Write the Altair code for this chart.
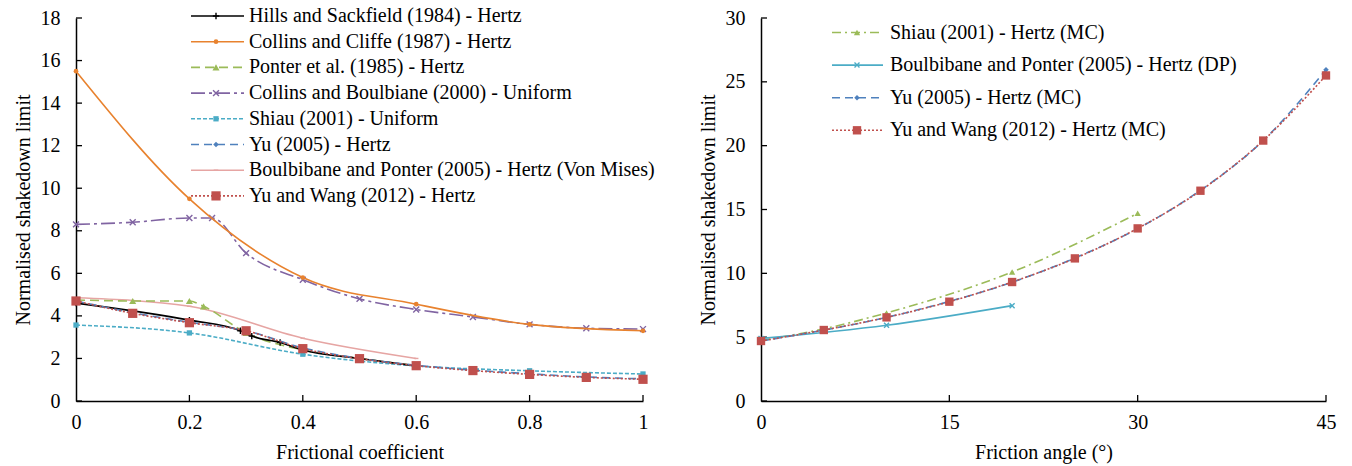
import altair as alt
import pandas as pd

# ---------------- data: left panel (frictional coefficient) ----------------
hills_x = [0, 0.2, 0.29, 0.31, 0.36, 0.4, 0.5, 0.6]
hills_y = [4.6, 3.8, 3.3, 3.05, 2.75, 2.4, 2.0, 1.65]

cc_x = [0, 0.2, 0.4, 0.6, 0.8, 1.0]
cc_y = [15.5, 9.5, 5.8, 4.55, 3.6, 3.3]

ponter_x = [0, 0.1, 0.2, 0.225, 0.3, 0.4, 0.5, 0.6]
ponter_y = [4.75, 4.7, 4.7, 4.45, 3.2, 2.4, 2.0, 1.65]

cb_x = [0, 0.1, 0.2, 0.24, 0.3, 0.4, 0.5, 0.6, 0.7, 0.8, 0.9, 1.0]
cb_y = [8.3, 8.4, 8.6, 8.6, 6.95, 5.7, 4.8, 4.3, 3.95, 3.6, 3.42, 3.38]

shiau_x = [0, 0.2, 0.4, 0.6, 0.8, 1.0]
shiau_y = [3.57, 3.2, 2.2, 1.65, 1.42, 1.27]

yu_x = [0, 0.1, 0.2, 0.3, 0.4, 0.5, 0.6, 0.7, 0.8, 0.9, 1.0]
yu_y = [4.7, 4.15, 3.7, 3.3, 2.5, 2.0, 1.68, 1.45, 1.28, 1.13, 1.04]

bp_x = [0, 0.2, 0.4, 0.6]
bp_y = [4.85, 4.45, 2.95, 2.0]

yw_x = [0, 0.1, 0.2, 0.3, 0.4, 0.5, 0.6, 0.7, 0.8, 0.9, 1.0]
yw_y = [4.7, 4.12, 3.68, 3.3, 2.46, 1.99, 1.66, 1.43, 1.25, 1.11, 1.02]

# ---------------- data: right panel (friction angle) ----------------
shiau_mc_x = [0, 5, 10, 20, 30]
shiau_mc_y = [4.75, 5.65, 6.9, 10.1, 14.7]

bp_dp_x = [0, 10, 20]
bp_dp_y = [4.9, 5.93, 7.47]

yu_mc_x = [0, 5, 10, 15, 20, 25, 30, 35, 40, 45]
yu_mc_y = [4.7, 5.55, 6.55, 7.8, 9.3, 11.2, 13.5, 16.5, 20.4, 25.95]

yw_mc_x = [0, 5, 10, 15, 20, 25, 30, 35, 40, 45]
yw_mc_y = [4.7, 5.56, 6.55, 7.78, 9.32, 11.17, 13.52, 16.47, 20.4, 25.5]

# ---------------- tick values ----------------
left_x_ticks = [0, 0.2, 0.4, 0.6, 0.8, 1.0]
left_y_ticks = [0, 2, 4, 6, 8, 10, 12, 14, 16, 18]
right_x_ticks = [0, 15, 30, 45]
right_y_ticks = [0, 5, 10, 15, 20, 25, 30]

left_labels = [
    "Hills and Sackfield (1984) - Hertz",
    "Collins and Cliffe (1987) - Hertz",
    "Ponter et al. (1985) - Hertz",
    "Collins and Boulbiane (2000) - Uniform",
    "Shiau (2001) - Uniform",
    "Yu (2005) - Hertz",
    "Boulbibane and Ponter (2005) - Hertz (Von Mises)",
    "Yu and Wang (2012) - Hertz",
]
right_labels = [
    "Shiau (2001) - Hertz (MC)",
    "Boulbibane and Ponter (2005) - Hertz (DP)",
    "Yu (2005) - Hertz (MC)",
    "Yu and Wang (2012) - Hertz (MC)",
]

FONT = "Liberation Serif"
FS = 20
W1, W2, H = 567, 565, 383
PLUS = "M-1,0L1,0M0,-1L0,1"
XSHAPE = "M-1,-1L1,1M1,-1L-1,1"

# style: color, dash, shape, size, filled
left_styles = [
    ("#000000", None, PLUS, 40, False),
    ("#E8822E", None, "circle", 22, True),
    ("#9BBB59", [9, 5], "triangle-up", 50, True),
    ("#8064A2", [14, 4, 3, 4], XSHAPE, 35, False),
    ("#4BACC6", [4, 2], "square", 28, True),
    ("#4F81BD", [8, 5], "diamond", 30, True),
    ("#E6A5A3", None, "stroke", 20, False),
    ("#C0504D", [2, 2], "square", 85, True),
]
right_styles = [
    ("#9BBB59", [9, 4, 2, 4], "triangle-up", 40, True),
    ("#4BACC6", None, XSHAPE, 25, False),
    ("#4F81BD", [8, 5], "diamond", 30, True),
    ("#C0504D", [2, 2], "square", 70, True),
]


def axis(values, title, fmt, is_x):
    kw = dict(
        values=values, format=fmt, ticks=False, grid=False,
        domainColor="black", domainWidth=1.5,
        labelFont=FONT, labelFontSize=FS, labelColor="black",
        labelFlush=False, labelOverlap=False,
        title=title, titleFont=FONT, titleFontSize=FS,
        titleFontWeight="normal", titleColor="black",
    )
    if is_x:
        kw.update(labelPadding=11, titlePadding=10)
    else:
        kw.update(labelPadding=16, titlePadding=7)
    return alt.Axis(**kw)


def series(xs, ys, style, X, Y, width=1.6):
    color, dash, shape, size, filled = style
    df = pd.DataFrame({"x": xs, "y": ys})
    enc = dict(x=X("x"), y=Y("y"))
    lk = dict(color=color, strokeWidth=width, interpolate="monotone")
    if dash:
        lk["strokeDash"] = dash
    line = alt.Chart(df).mark_line(**lk).encode(**enc)
    pk = dict(shape=shape, size=size, filled=filled, color=color, opacity=1)
    if not filled:
        pk["strokeWidth"] = 1.4
    pts = alt.Chart(df).mark_point(**pk).encode(**enc)
    return [line, pts]


def legend(labels, styles, x0, x1, xm, xt, y0, dy, width=1.6):
    one = pd.DataFrame({"a": [0]})
    layers = []
    for i, (lab, st) in enumerate(zip(labels, styles)):
        color, dash, shape, size, filled = st
        yy = y0 + i * dy
        rk = dict(color=color, strokeWidth=width)
        if dash:
            rk["strokeDash"] = dash
        layers.append(alt.Chart(one).mark_rule(**rk).encode(
            x=alt.value(x0), x2=alt.value(x1), y=alt.value(yy)))
        pk = dict(shape=shape, size=size, filled=filled, color=color, opacity=1)
        if not filled:
            pk["strokeWidth"] = 1.4
        layers.append(alt.Chart(one).mark_point(**pk).encode(
            x=alt.value(xm), y=alt.value(yy)))
        layers.append(alt.Chart(one).mark_text(
            align="left", baseline="middle", font=FONT, fontSize=FS, color="black"
        ).encode(x=alt.value(xt), y=alt.value(yy), text=alt.value(lab)))
    return layers


def ticks(xvals, yvals, X, Y):
    ydf = pd.DataFrame({"v": yvals})
    xdf = pd.DataFrame({"v": xvals})
    ylay = alt.Chart(ydf).mark_rule(color="black", strokeWidth=1.3).encode(
        y=Y("v"), x=alt.value(0), x2=alt.value(6))
    xlay = alt.Chart(xdf).mark_rule(color="black", strokeWidth=1.3).encode(
        x=X("v"), y=alt.value(H), y2=alt.value(H - 6))
    return [ylay, xlay]


def make_enc(domain_x, domain_y, xvals, yvals, xtitle, ytitle, xfmt):
    xs = alt.Scale(domain=domain_x, nice=False, zero=False)
    ys = alt.Scale(domain=domain_y, nice=False, zero=False)
    xa = axis(xvals, xtitle, xfmt, True)
    ya = axis(yvals, ytitle, "d", False)

    def X(f):
        return alt.X(f"{f}:Q", scale=xs, axis=xa)

    def Y(f):
        return alt.Y(f"{f}:Q", scale=ys, axis=ya)
    return X, Y


# ---------------- left panel ----------------
LX, LY = make_enc([0, 1], [0, 18], left_x_ticks, left_y_ticks,
                  "Frictional coefficient", "Normalised shakedown limit", "~g")
left_layers = ticks(left_x_ticks[1:], left_y_ticks, LX, LY)
left_data = [
    (hills_x, hills_y), (cc_x, cc_y), (ponter_x, ponter_y), (cb_x, cb_y),
    (shiau_x, shiau_y), (yu_x, yu_y), (bp_x, bp_y), (yw_x, yw_y),
]
draw_order = [6, 2, 3, 1, 4, 0, 5, 7]
for i in draw_order:
    xs, ys = left_data[i]
    left_layers += series(xs, ys, left_styles[i], LX, LY)
left_layers += legend(left_labels, left_styles, 115, 168, 140, 173, -2, 25.7)
left = alt.layer(*left_layers).properties(width=W1, height=H)

# ---------------- right panel ----------------
RX, RY = make_enc([0, 45], [0, 30], right_x_ticks, right_y_ticks,
                  "Friction angle (\u00b0)", "Normalised shakedown limit", "d")
right_layers = ticks(right_x_ticks[1:], right_y_ticks, RX, RY)
right_data = [(shiau_mc_x, shiau_mc_y), (bp_dp_x, bp_dp_y),
              (yu_mc_x, yu_mc_y), (yw_mc_x, yw_mc_y)]
for i in [0, 1, 2, 3]:
    xs, ys = right_data[i]
    right_layers += series(xs, ys, right_styles[i], RX, RY)
right_layers += legend(right_labels, right_styles, 71, 122, 96, 129, 14.5, 32.6)
right = alt.layer(*right_layers).properties(width=W2, height=H)

chart = alt.hconcat(left, right, spacing=118, bounds="flush").properties(
    padding={"left": 13, "top": 6, "right": 5, "bottom": 5},
    background="white",
).configure_view(stroke=None)

chart.save("out.html", embed_options={"renderer": "svg", "actions": False})
